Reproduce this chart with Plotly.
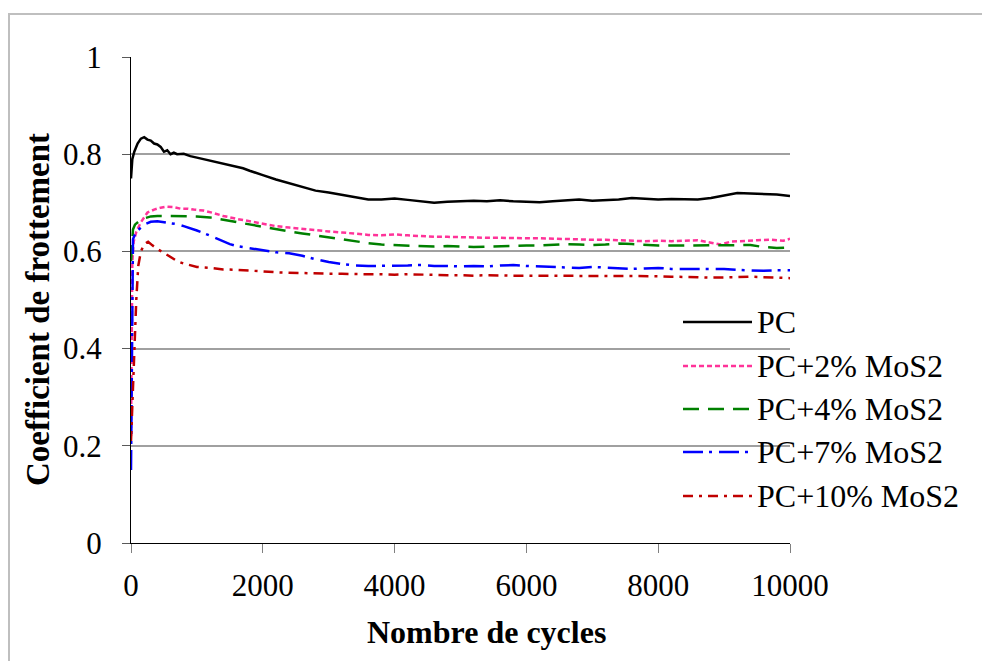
import plotly.graph_objects as go

# ---------------- data ----------------
names = ["PC", "PC+2% MoS2", "PC+4% MoS2", "PC+7% MoS2", "PC+10% MoS2"]

pc_x = [0, 20, 50, 100, 150, 200, 250, 300, 350, 400, 450, 500, 550, 600, 650, 700, 800, 900, 1000,
        1100, 1200, 1300, 1400, 1500, 1600, 1700, 1800, 1900, 2000, 2200, 2400, 2600, 2800, 3000,
        3200, 3400, 3600, 3800, 4000, 4200, 4400, 4600, 4800, 5000, 5200, 5400, 5600, 5800, 6000,
        6200, 6400, 6600, 6800, 7000, 7200, 7400, 7600, 7800, 8000, 8200, 8400, 8600, 8800, 9000,
        9200, 9400, 9600, 9800, 10000]
pc_y = [0.75, 0.79, 0.805, 0.822, 0.832, 0.835, 0.830, 0.828, 0.822, 0.820, 0.815, 0.805, 0.808,
        0.800, 0.803, 0.800, 0.801, 0.796, 0.793, 0.790, 0.787, 0.784, 0.781, 0.778, 0.774, 0.771,
        0.766, 0.762, 0.757, 0.748, 0.740, 0.732, 0.725, 0.721, 0.716, 0.711, 0.707, 0.707, 0.709,
        0.706, 0.703, 0.700, 0.702, 0.703, 0.704, 0.703, 0.705, 0.703, 0.702, 0.701, 0.703, 0.705,
        0.707, 0.704, 0.705, 0.707, 0.710, 0.708, 0.707, 0.708, 0.708, 0.707, 0.710, 0.715, 0.720,
        0.719, 0.718, 0.717, 0.714]

pc2_x = [0, 10, 20, 40, 80, 150, 250, 350, 450, 550, 650, 750, 850, 950, 1100, 1250, 1400, 1600,
         1800, 2000, 2200, 2400, 2600, 2800, 3000, 3200, 3400, 3600, 3800, 4000, 4200, 4400, 4600,
         4800, 5000, 5200, 5400, 5600, 5800, 6000, 6200, 6400, 6600, 6800, 7000, 7200, 7400, 7600,
         7800, 8000, 8200, 8400, 8600, 8800, 8950, 9100, 9300, 9500, 9700, 9900, 10000]
pc2_y = [0.22, 0.45, 0.58, 0.62, 0.64, 0.660, 0.680, 0.686, 0.690, 0.692, 0.691, 0.688, 0.688,
         0.686, 0.684, 0.679, 0.673, 0.667, 0.662, 0.657, 0.652, 0.649, 0.646, 0.643, 0.641, 0.639,
         0.636, 0.634, 0.633, 0.635, 0.633, 0.631, 0.630, 0.630, 0.629, 0.628, 0.628, 0.628, 0.627,
         0.627, 0.627, 0.626, 0.626, 0.625, 0.624, 0.624, 0.623, 0.622, 0.621, 0.622, 0.621, 0.622,
         0.623, 0.618, 0.614, 0.620, 0.622, 0.623, 0.624, 0.622, 0.626]

pc4_x = [0, 15, 30, 60, 120, 200, 300, 400, 600, 800, 1000, 1200, 1400, 1600, 1800, 2000, 2200,
         2400, 2600, 2800, 3000, 3200, 3400, 3600, 3800, 4000, 4200, 4400, 4600, 4800, 5000, 5200,
         5400, 5600, 5800, 6000, 6200, 6400, 6600, 6800, 7000, 7200, 7400, 7600, 7800, 8000, 8200,
         8400, 8600, 8800, 9000, 9200, 9400, 9600, 9800, 10000]
pc4_y = [0.58, 0.62, 0.645, 0.655, 0.662, 0.668, 0.672, 0.673, 0.673, 0.672, 0.672, 0.670, 0.665,
         0.660, 0.655, 0.650, 0.645, 0.641, 0.637, 0.633, 0.629, 0.624, 0.620, 0.617, 0.614, 0.613,
         0.612, 0.611, 0.610, 0.611, 0.610, 0.609, 0.610, 0.611, 0.611, 0.612, 0.612, 0.613, 0.615,
         0.614, 0.613, 0.614, 0.616, 0.615, 0.613, 0.612, 0.612, 0.612, 0.613, 0.612, 0.612, 0.613,
         0.613, 0.609, 0.607, 0.608]

pc7_x = [0, 10, 20, 30, 60, 100, 200, 300, 400, 500, 600, 700, 800, 900, 1000, 1100, 1200, 1300,
         1400, 1500, 1600, 1800, 2000, 2200, 2400, 2600, 2800, 3000, 3200, 3400, 3600, 3800, 4000,
         4200, 4400, 4600, 4800, 5000, 5200, 5400, 5600, 5800, 6000, 6200, 6400, 6600, 6800, 7000,
         7200, 7400, 7600, 7800, 8000, 8200, 8400, 8600, 8800, 9000, 9200, 9400, 9600, 9800, 10000]
pc7_y = [0.15, 0.40, 0.58, 0.625, 0.635, 0.643, 0.655, 0.661, 0.662, 0.660, 0.658, 0.656, 0.652,
         0.648, 0.643, 0.638, 0.632, 0.626, 0.620, 0.615, 0.611, 0.607, 0.603, 0.598, 0.596, 0.591,
         0.584, 0.578, 0.574, 0.571, 0.570, 0.570, 0.571, 0.571, 0.572, 0.570, 0.570, 0.569, 0.570,
         0.569, 0.571, 0.572, 0.570, 0.569, 0.568, 0.567, 0.566, 0.568, 0.567, 0.566, 0.564, 0.565,
         0.566, 0.564, 0.564, 0.563, 0.564, 0.564, 0.562, 0.561, 0.560, 0.561, 0.561]

pc10_x = [0, 25, 50, 80, 110, 150, 200, 260, 320, 400, 500, 600, 700, 800, 900, 1000, 1200, 1400,
          1600, 1800, 2000, 2200, 2400, 2600, 2800, 3000, 3200, 3400, 3600, 3800, 4000, 4200, 4400,
          4600, 4800, 5000, 5200, 5400, 5600, 5800, 6000, 6200, 6400, 6600, 6800, 7000, 7200, 7400,
          7600, 7800, 8000, 8200, 8400, 8600, 8800, 9000, 9200, 9400, 9600, 9800, 10000]
pc10_y = [0.21, 0.30, 0.42, 0.50, 0.57, 0.600, 0.615, 0.620, 0.613, 0.605, 0.597, 0.588, 0.580,
          0.575, 0.571, 0.568, 0.566, 0.563, 0.562, 0.561, 0.559, 0.557, 0.556, 0.555, 0.555, 0.554,
          0.554, 0.553, 0.553, 0.553, 0.552, 0.553, 0.552, 0.552, 0.551, 0.551, 0.550, 0.551, 0.550,
          0.550, 0.550, 0.550, 0.550, 0.549, 0.550, 0.549, 0.549, 0.549, 0.549, 0.549, 0.549, 0.548,
          0.548, 0.547, 0.546, 0.546, 0.547, 0.548, 0.547, 0.546, 0.545]

x_ticks = [0, 2000, 4000, 6000, 8000, 10000]
y_ticks = [0, 0.2, 0.4, 0.6, 0.8, 1]
y_tick_text = ["0", "0.2", "0.4", "0.6", "0.8", "1"]
x_title = "Nombre de cycles"
y_title = "Coefficient de frottement"

# ---------------- styles ----------------
series_x = [pc_x, pc2_x, pc4_x, pc7_x, pc10_x]
series_y = [pc_y, pc2_y, pc4_y, pc7_y, pc10_y]
colors = ["#000000", "#FF3399", "#008000", "#0000FF", "#C00000"]
dashes = ["solid", "5px,3px", "16px,9px", "20px,6px,3px,7px", "10px,6px,3px,6px"]

W, H = 982, 661
L, R, T, B = 131, 790, 57, 543   # plot area in pixels
FONT = "Liberation Serif, Times New Roman, serif"


def px_to_paper_x(px):
    return (px - L) / (R - L)


def px_to_paper_y(py):
    return (B - py) / (B - T)


fig = go.Figure()
for nm, xs, ys, c, d in zip(names, series_x, series_y, colors, dashes):
    fig.add_trace(go.Scatter(x=xs, y=ys, mode="lines", name=nm, showlegend=False,
                             line=dict(color=c, width=2.5, dash=d)))

# manual legend (long key lines like the original)
shapes = []
annotations = []
leg_rows = [322, 366, 409, 452, 496]
for nm, c, d, ry in zip(names, colors, dashes, leg_rows):
    shapes.append(dict(type="line", xref="paper", yref="paper",
                       x0=px_to_paper_x(683), x1=px_to_paper_x(752),
                       y0=px_to_paper_y(ry), y1=px_to_paper_y(ry),
                       line=dict(color=c, width=2.5, dash=d)))
    annotations.append(dict(xref="paper", yref="paper", x=px_to_paper_x(755), y=px_to_paper_y(ry),
                            xanchor="left", yanchor="middle", text=nm, showarrow=False,
                            font=dict(family=FONT, size=32, color="black")))

# axis titles (placed like the original, slightly off-centre)
annotations.append(dict(xref="paper", yref="paper", x=px_to_paper_x(487), y=px_to_paper_y(632),
                        xanchor="center", yanchor="middle", text="<b>" + x_title + "</b>",
                        showarrow=False, font=dict(family=FONT, size=32, color="black")))
annotations.append(dict(xref="paper", yref="paper", x=px_to_paper_x(38), y=px_to_paper_y(310),
                        xanchor="center", yanchor="middle", text="<b>" + y_title + "</b>",
                        textangle=-90, showarrow=False,
                        font=dict(family=FONT, size=33, color="black")))

# outer chart-area border
shapes.append(dict(type="rect", xref="paper", yref="paper", layer="below",
                   x0=px_to_paper_x(9), x1=px_to_paper_x(W + 20),
                   y0=px_to_paper_y(H + 20), y1=px_to_paper_y(14),
                   line=dict(color="#BFBFBF", width=2), fillcolor="rgba(0,0,0,0)"))

fig.update_layout(
    width=W, height=H,
    margin=dict(l=L, r=W - R, t=T, b=H - B, autoexpand=False),
    paper_bgcolor="white", plot_bgcolor="white",
    font=dict(family=FONT, size=31, color="black"),
    shapes=shapes, annotations=annotations,
    showlegend=False,
)
fig.update_xaxes(range=[0, 10000], tickvals=x_ticks, ticktext=[str(v) for v in x_ticks],
                 showgrid=False, zeroline=False, showline=True, linecolor="black", linewidth=1.3,
                 ticks="outside", ticklen=9, tickcolor="#808080", tickwidth=1.3,
                 ticklabelstandoff=6)
fig.update_yaxes(range=[0, 1], tickvals=y_ticks, ticktext=y_tick_text,
                 showgrid=True, gridcolor="#A0A0A0", gridwidth=2, zeroline=False,
                 showline=True, linecolor="black", linewidth=1.3,
                 ticks="outside", ticklen=8, tickcolor="#595959", tickwidth=1.3,
                 ticklabelstandoff=14)

fig.write_html("out.html")
